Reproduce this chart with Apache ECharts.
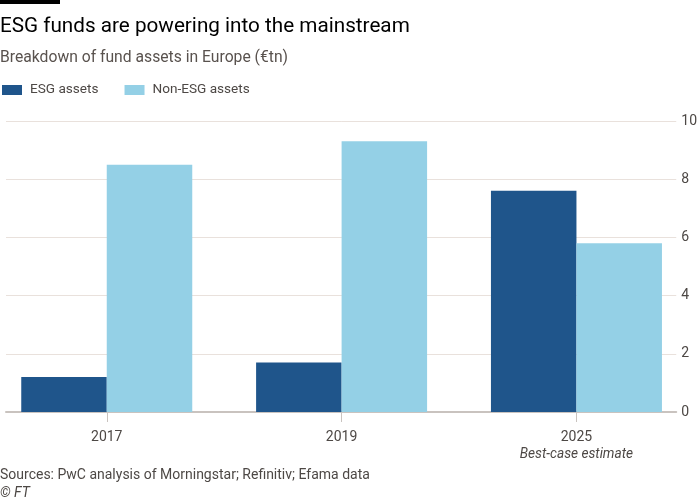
<!DOCTYPE html>
<html>
<head>
<meta charset="utf-8">
<script src="https://cdn.jsdelivr.net/npm/echarts@6/dist/echarts.min.js"></script>
<style>
html,body{margin:0;padding:0;background:#fff;}
#c{width:700px;height:500px;}
</style>
</head>
<body>
<div id="c"></div>
<script>
const categories = ['2017', '2019', '2025'];
const esgAssets = [1.2, 1.7, 7.6];
const nonEsgAssets = [8.5, 9.3, 5.8];
const yTicks = [0, 2, 4, 6, 8, 10];

const FONT = 'Roboto, "Open Sans", sans-serif';
const chart = echarts.init(document.getElementById('c'), null, {renderer: 'canvas'});
const idx = categories.map((c, i) => i);

chart.setOption({
  backgroundColor: '#ffffff',
  animation: false,
  textStyle: {fontFamily: FONT},
  title: [
    {text: 'ESG funds are powering into the mainstream', left: -5, top: 11,
     textStyle: {fontFamily: FONT, fontSize: 20.7, fontWeight: 'normal', color: '#000'}},
    {text: 'Breakdown of fund assets in Europe (€tn)', left: -5, top: 45,
     textStyle: {fontFamily: FONT, fontSize: 15.7, fontWeight: 'normal', color: '#59524e'}}
  ],
  legend: {
    left: -3, top: 78, icon: 'rect', itemWidth: 20, itemHeight: 10, itemGap: 26,
    textStyle: {fontFamily: FONT, fontSize: 13.6, color: '#4d4845', padding: [0, 0, 0, 3]},
    data: ['ESG assets', 'Non-ESG assets']
  },
  grid: {left: 6, right: 22, top: 121, bottom: 88, containLabel: false},
  xAxis: {
    type: 'value',
    min: -0.429, max: 2.425,
    splitLine: {show: false},
    axisLine: {show: true, onZero: false, lineStyle: {color: '#c9c3bf', width: 2}},
    axisTick: {show: true, customValues: idx, length: 10, lineStyle: {color: '#c9c3bf', width: 1}},
    axisLabel: {
      customValues: idx, margin: 17, color: '#4d4845', fontSize: 14, fontFamily: FONT,
      lineHeight: 17,
      formatter: function (v) {
        const i = Math.round(v);
        const c = categories[i];
        return i === 2 ? c + '\n{i|Best-case estimate}' : c;
      },
      rich: {i: {fontStyle: 'italic', fontSize: 13.7, color: '#4d4845', fontFamily: FONT, lineHeight: 17}}
    }
  },
  yAxis: {
    type: 'value', position: 'right', min: 0, max: 10, interval: 2,
    axisLine: {show: false}, axisTick: {show: false},
    splitLine: {show: true, lineStyle: {color: '#e9e1dc', width: 1}},
    axisLabel: {margin: 5, color: '#4d4845', fontSize: 14, fontFamily: FONT, align: 'left',
      formatter: v => yTicks.includes(v) ? String(v) : ''}
  },
  series: [
    {name: 'ESG assets', type: 'bar', barWidth: 85.5, barGap: '0%',
     itemStyle: {color: '#1f558b'},
     data: esgAssets.map((v, i) => [idx[i], v])},
    {name: 'Non-ESG assets', type: 'bar', barWidth: 85.5, barGap: '0%',
     itemStyle: {color: '#94d0e6'},
     data: nonEsgAssets.map((v, i) => [idx[i], v])}
  ],
  graphic: [
    {type: 'rect', left: 0, top: 0, shape: {width: 60, height: 4}, style: {fill: '#000'}},
    {type: 'text', left: 0, top: 468, style: {text: 'Sources: PwC analysis of Morningstar; Refinitiv; Efama data',
      font: '14px ' + FONT, fill: '#4d4845'}},
    {type: 'text', left: 0, top: 486, style: {text: '© FT', font: 'italic 14px ' + FONT, fill: '#4d4845'}}
  ]
});
</script>
</body>
</html>
